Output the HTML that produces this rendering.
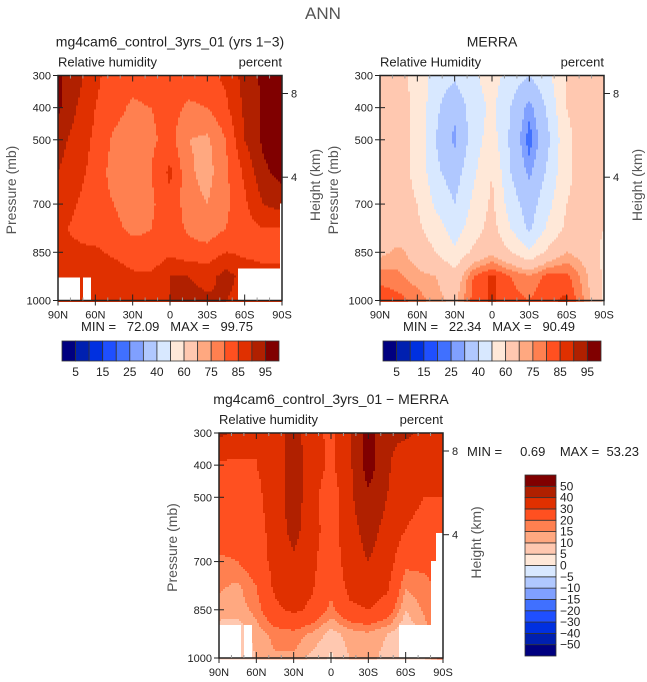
<!DOCTYPE html>
<html><head><meta charset="utf-8"><style>
body{margin:0;background:#fff;}
svg{display:block;font-family:"Liberation Sans",sans-serif;}
</style></head><body>
<svg id="s" width="647" height="682" viewBox="0 0 647 682">
<text x="323" y="19" font-size="17" fill="#555" text-anchor="middle">ANN</text>
</svg>
<script>
const lats=[90,75,60,45,30,15,0,-15,-30,-45,-60,-75,-90];
const plevs=[300,400,500,600,700,775,850,925,1000];
const modelRH=[
[96,92,86,83,82,84,84,83,84,86,92,96,97],
[96,90,85,82,79,80,82,79,80,84,91,96,97],
[92,88,84,79,77,79,82,75,74,80,90,96,97],
[90,87,83,78,77,80,86,76,73,79,86,94,97],
[88,85,82,80,78,79,84,77,75,79,84,90,92],
[86,84,82,81,79,80,83,79,77,80,83,85,85],
[86,86,86,84,82,81,84,82,82,85,84,84,84],
[88,88,87,88,86,86,90,90,88,92,88,86,86],
[88,88,87,88,86,87,90,92,91,90,88,86,86]];
const merraRH=[
[60,62,58,45,42,48,55,45,40,48,60,63,65],
[62,63,58,42,32,45,52,40,27,42,60,64,66],
[62,63,58,40,28,45,55,38,22,38,58,64,66],
[63,63,58,42,35,48,60,40,28,42,58,64,66],
[64,63,60,48,40,52,62,45,35,47,60,64,64],
[64,64,62,55,45,55,64,50,38,52,62,64,60],
[68,72,66,60,52,62,68,60,52,62,70,66,58],
[78,76,72,70,64,80,86,80,76,82,82,72,58],
[84,82,78,72,68,82,86,82,80,84,86,74,58]];
const diffRH=[
[42,38,30,33,45,33,28,38,55,42,42,38,30],
[28,28,30,33,45,35,28,38,55,42,32,32,32],
[28,27,28,34,46,33,24,38,48,40,32,30,30],
[27,25,27,33,44,33,26,36,44,37,30,28,28],
[18,20,25,33,38,32,24,35,40,35,22,22,25],
[16,14,20,32,36,31,22,33,35,32,16,18,22],
[13,12,17,28,32,28,18,28,30,26,10,16,22],
[6,6,12,17,18,14,8,12,14,10,5,12,25],
[6,6,10,14,14,8,4,10,12,8,5,10,25]];
const absLevels=[5,10,15,20,25,30,40,50,60,70,75,80,85,90,95];
const absLabels=["5","15","25","40","60","75","85","95"];
const diffLevels=[-50,-40,-30,-20,-15,-10,-5,0,5,10,15,20,30,40,50];
const diffLabels=["−50","−40","−30","−20","−15","−10","−5","0","5","10","15","20","30","40","50"];
const xTickLabels=["90N","60N","30N","0","30S","60S","90S"];
const xTickVals=[90,60,30,0,-30,-60,-90];
const yTickVals=[300,400,500,700,850,1000];
const hTickVals=[8,4];
const colors=["#000080","#0020b0","#0030e0","#1f4fff","#4070ff","#80a0ff","#b0c8ff","#d8e8ff","#ffe8d8","#ffc8b0","#ffa880","#ff8050","#ff5020","#e03000","#b02000","#800000"];
const NS="http://www.w3.org/2000/svg";
const svg=document.getElementById('s');
function mk(t,a,p){const e=document.createElementNS(NS,t);for(const k in a)e.setAttribute(k,a[k]);(p||svg).appendChild(e);return e;}
function txt(x,y,s,sz,anchor,p){const e=mk('text',{x:x,y:y,'font-size':sz,'text-anchor':anchor||'middle',fill:'#222'},p);e.textContent=s;return e;}
function sample(grid,lat,p){
 let fi=(90-lat)/15; let i=Math.min(11,Math.floor(fi)); let tx=fi-i;
 let j=0; while(j<plevs.length-2&&p>plevs[j+1])j++;
 let ty=(p-plevs[j])/(plevs[j+1]-plevs[j]);
 const a=grid[j][i],b=grid[j][i+1],c=grid[j+1][i],d=grid[j+1][i+1];
 return (a*(1-tx)+b*tx)*(1-ty)+(c*(1-tx)+d*tx)*ty;}
function lvl(v,levels){let k=0;while(k<levels.length&&v>=levels[k])k++;return k;}
function panel(name,x0,y0,grid,levels,title,sub1,masks){
 const W=224,H=225;
 const g=mk('g',{});
 
 
 const xs=lat=>x0+(90-lat)/180*W;
 const ys=p=>y0+(p-300)/700*H;
 const step=2;
 for(let py=0;py<H;py+=step){
  const p=300+(py+step/2)/H*700;
  let run=-1,rs=0;
  for(let px=0;px<=W;px+=step){
   let k=-2;
   if(px<W){const lat=90-(px+step/2)/W*180;k=lvl(sample(grid,lat,p),levels);}
   if(k!==run){
    if(run>=0){const r=mk('rect',{x:x0+rs,y:y0+py,width:px-rs+0.5,height:step+0.5,fill:colors[run]},g);
     
     }
    run=k;rs=px;}
  }
 }
 (masks||[]).forEach(m=>{const r=mk('rect',{x:x0+m[0],y:y0+m[1],width:m[2],height:m[3],fill:'#fff'},g);
  
  });
 const fr=mk('rect',{x:x0,y:y0,width:W,height:H,fill:'none',stroke:'#222','stroke-width':1.5},g);
 
 
 for(let l=90;l>=-90;l-=10){const x=xs(l);const major=l%30===0;
  mk('line',{x1:x,x2:x,y1:y0+H,y2:y0+H-(major?6:3),stroke:major?'#222':'#999'},g);
  mk('line',{x1:x,x2:x,y1:y0,y2:y0+(major?6:3),stroke:major?'#222':'#999'},g);}
 xTickVals.forEach((v,i)=>{const x=xs(v);mk('line',{x1:x,x2:x,y1:y0+H,y2:y0+H+5,stroke:'#222'},g);
  const t=txt(x,y0+H+18,xTickLabels[i],11,'middle',g);
  
  });
 yTickVals.forEach(v=>{const y=ys(v);mk('line',{x1:x0-5,x2:x0+5,y1:y,y2:y,stroke:'#222'},g);
  const t=txt(x0-7,y+4,String(v),11,'end',g);
  
  });
 hTickVals.forEach(h=>{const p=1013.25*Math.pow(1-2.25577e-5*h*1000,5.25588);const y=ys(p);
  mk('line',{x1:x0+W,x2:x0+W+6,y1:y,y2:y,stroke:'#222'},g);
  const t=txt(x0+W+9,y+4,String(h),11,'start',g);
  
  });
 const yt=txt(0,0,'Pressure (mb)',14,'middle',g);
 yt.setAttribute('transform',`translate(${x0-42},${y0+H/2+2}) rotate(-90)`);yt.setAttribute('fill','#555');
 
 
 const ht=txt(0,0,'Height (km)',14,'middle',g);
 ht.setAttribute('transform',`translate(${x0+W+38},${y0+H/2-3}) rotate(-90)`);ht.setAttribute('fill','#555');
 
 
 const tt=txt(x0+W/2,y0-29,title,14,'middle',g);
 
 
 const s1=txt(x0,y0-9,sub1,13,'start',g);
 
 
 const s2=txt(x0+W,y0-9,'percent',13,'end',g);
 
 
}
function hbar(name,x0,y0,w,h,labels){
 const g=mk('g',{});
 
 
 const bw=w/16;
 colors.forEach((c,i)=>{const r=mk('rect',{x:x0+i*bw,y:y0,width:bw,height:h,fill:c,stroke:'#333','stroke-width':0.8},g);
  
  });
 labels.forEach((l,i)=>{const t=txt(x0+(2*i+1)*bw,y0+h+15,l,12,'middle',g);
  
  });
}
panel('model-panel',58,75.5,modelRH,absLevels,'mg4cam6_control_3yrs_01 (yrs 1−3)','Relative humidity',
 [[0,202,22,23],[25,202,8,23],[180,193,44,32],[222,128,2,65]]);
panel('merra-panel',380,75.5,merraRH,absLevels,'MERRA','Relative Humidity',[]);
panel('diff-panel',219,433,diffRH,diffLevels,'mg4cam6_control_3yrs_01 − MERRA','Relative humidity',
 [[0,192,22,33],[25,192,8,33],[180,192,44,33],[212,128,12,64],[217,100,7,30]]);
hbar('model-colorbar',62,341,217,20,absLabels);
hbar('merra-colorbar',383,341,218,20,absLabels);
function vbar(){
 const g=mk('g',{});
 
 
 const x0=525,y0=475,w=31,h=181,bh=h/16;
 colors.forEach((c,i)=>{const r=mk('rect',{x:x0,y:y0+(15-i)*bh,width:w,height:bh,fill:c,stroke:'#333','stroke-width':0.8},g);
  
  });
 diffLabels.forEach((l,i)=>{const t=txt(x0+w+4,y0+(15-i)*bh+4,l,12,'start',g);
  
  });
}
vbar();
const m1=txt(167,331,'MIN =   72.09   MAX =   99.75',13);m1.style.whiteSpace='pre';


const m2=txt(489,331,'MIN =   22.34   MAX =   90.49',13);m2.style.whiteSpace='pre';


const m3=txt(467,456,'MIN =     0.69    MAX =  53.23',13,'start');m3.style.whiteSpace='pre';


</script>
</body></html>
